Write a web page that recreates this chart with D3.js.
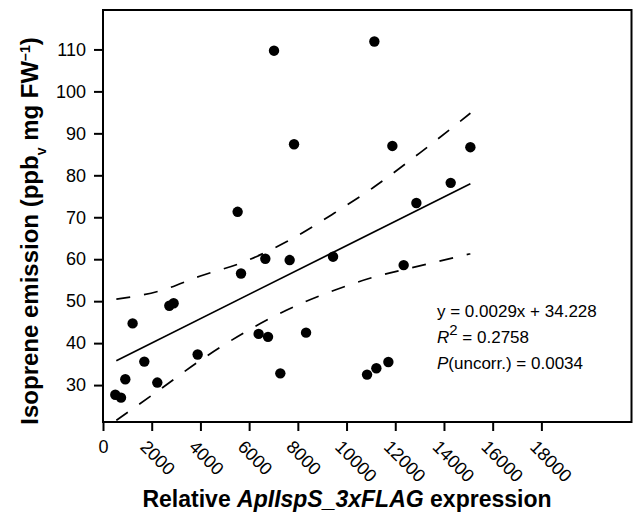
<!DOCTYPE html>
<html>
<head>
<meta charset="utf-8">
<script src="https://cdn.jsdelivr.net/npm/d3@7"></script>
<style>
    body { margin: 0; background: #fff; }
    #chart text { font-family: "Liberation Sans", Arial, sans-serif; fill: #000; }
</style>
</head>
<body>
<div id="chart"></div>
<script>

// data
var expression = [505, 739, 916, 1216, 1696, 2230, 2723, 2900, 3886, 5528, 5667, 6390, 6665, 6776, 7022, 7281, 7664, 7844, 8337, 9446, 10842, 11142, 11224, 11717, 11881, 12345, 12867, 14276, 15084];
var emission = [27.7, 27.0, 31.4, 44.7, 35.6, 30.6, 48.9, 49.5, 37.3, 71.3, 56.6, 42.2, 60.1, 41.5, 109.7, 32.8, 59.8, 87.4, 42.5, 60.6, 32.5, 111.9, 34.0, 35.5, 87.0, 58.6, 73.4, 78.2, 86.7];

// regression y = 0.0029x + 34.228
var slope = 0.0029;
var intercept = 34.228;
var fitRange = [548, 15084];

// 95% band
var bandX = [548, 2300, 4000, 5800, 7550, 9500, 11100, 13000, 15084];
var bandUpper = [50.5, 52.4, 56.0, 59.4, 64.2, 71.0, 77.1, 85.3, 94.8];
var bandLower = [21.6, 28.8, 35.9, 42.5, 47.9, 52.6, 55.7, 58.4, 61.3];

var xTicks = [0, 2000, 4000, 6000, 8000, 10000, 12000, 14000, 16000, 18000];
var yTicks = [30, 40, 50, 60, 70, 80, 90, 100, 110];

var statLines = ["y = 0.0029x + 34.228", "= 0.2758", "(uncorr.) = 0.0034"];

var width = 633;
var height = 519;

var margin = { top: 10, right: 1.5, bottom: 97, left: 103 };

var svg = d3.select("#chart").append("svg")
    .attr("width", width)
    .attr("height", height);

var xScale = d3.scaleLinear()
    .domain([0, 21700])
    .range([margin.left, width - margin.right]);

var yScale = d3.scaleLinear()
    .domain([21.2, 119.4])
    .range([height - margin.bottom, margin.top]);

// axes
var xAxis = svg.append("g")
    .attr("transform", `translate(0, ${height - margin.bottom})`)
    .call(d3.axisBottom(xScale).tickValues(xTicks).tickSize(9).tickFormat(d3.format("d")));

xAxis.select(".domain").remove();
xAxis.selectAll(".tick line").attr("stroke-width", 2);
xAxis.selectAll(".tick text")
    .attr("font-size", 18)
    .each(function (d) {
        var t = d3.select(this);
        if (d == 0) {
            t.attr("y", 31).attr("dy", 0);
        } else {
            t.attr("text-anchor", "start")
                .attr("x", -13)
                .attr("y", 26)
                .attr("dy", 0)
                .attr("transform", "rotate(45, -13, 26)");
        }
    });

var yAxis = svg.append("g")
    .attr("transform", `translate(${margin.left}, 0)`)
    .call(d3.axisLeft(yScale).tickValues(yTicks).tickSize(9).tickPadding(8));

yAxis.select(".domain").remove();
yAxis.selectAll(".tick line").attr("stroke-width", 2);
yAxis.selectAll(".tick text").attr("font-size", 18);

// frame
svg.append("rect")
    .attr("x", xScale.range()[0])
    .attr("y", yScale.range()[1])
    .attr("width", xScale.range()[1] - xScale.range()[0])
    .attr("height", yScale.range()[0] - yScale.range()[1])
    .attr("fill", "none")
    .attr("stroke", "#000")
    .attr("stroke-width", 2);

// confidence band
var bandLine = d3.line()
    .x(d => xScale(d[0]))
    .y(d => yScale(d[1]))
    .curve(d3.curveMonotoneX);

[bandUpper, bandLower].forEach(function (arr) {
    svg.append("path")
        .datum(bandX.map((x, i) => [x, arr[i]]))
        .attr("d", bandLine)
        .attr("fill", "none")
        .attr("stroke", "#000")
        .attr("stroke-width", 1.7)
        .attr("stroke-dasharray", "14,14");
});

// regression line
svg.append("line")
    .attr("x1", xScale(fitRange[0]))
    .attr("y1", yScale(slope * fitRange[0] + intercept))
    .attr("x2", xScale(fitRange[1]))
    .attr("y2", yScale(slope * fitRange[1] + intercept))
    .attr("stroke", "#000")
    .attr("stroke-width", 1.7);

// points
svg.selectAll(".dot")
    .data(expression.map((x, i) => ({ x: x, y: emission[i] })))
    .enter()
    .append("circle")
    .attr("class", "dot")
    .attr("cx", d => xScale(d.x))
    .attr("cy", d => yScale(d.y))
    .attr("r", 5.2)
    .attr("fill", "#000");

// stats
var stats = svg.append("g").attr("font-size", 17);

stats.append("text")
    .attr("x", 437).attr("y", 316.5)
    .text(statLines[0]);

var r2 = stats.append("text").attr("x", 437).attr("y", 343);
r2.append("tspan").attr("font-style", "italic").text("R");
r2.append("tspan").attr("baseline-shift", "super").attr("font-size", 15).text("2");
r2.append("tspan").text(" " + statLines[1]);

var pval = stats.append("text").attr("x", 437).attr("y", 368.5);
pval.append("tspan").attr("font-style", "italic").text("P");
pval.append("tspan").text(statLines[2]);

// axis titles
var xTitle = svg.append("text")
    .attr("x", 347)
    .attr("y", 507)
    .attr("text-anchor", "middle")
    .attr("font-size", 23)
    .attr("font-weight", "bold");

xTitle.append("tspan").text("Relative ");
xTitle.append("tspan").attr("font-style", "italic").text("ApIIspS_3xFLAG");
xTitle.append("tspan").text(" expression");

var yTitle = svg.append("text")
    .attr("transform", "translate(38, 231) rotate(-90)")
    .attr("text-anchor", "middle")
    .attr("font-size", 24)
    .attr("font-weight", "bold");

yTitle.append("tspan").text("Isoprene emission (ppb");
yTitle.append("tspan").attr("baseline-shift", "sub").attr("font-size", 14).text("v");
yTitle.append("tspan").text(" mg FW");
yTitle.append("tspan").attr("baseline-shift", "super").attr("font-size", 14).text("\u20131");
yTitle.append("tspan").text(")");

</script>
</body>
</html>
